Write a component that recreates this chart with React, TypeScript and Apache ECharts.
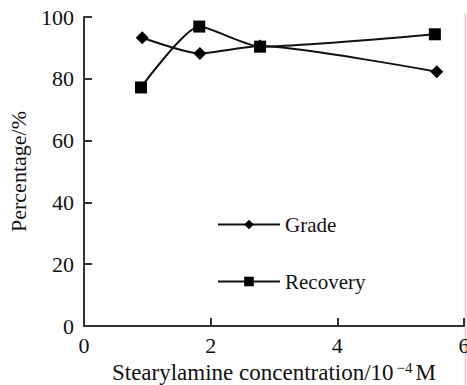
import React, { useEffect, useRef } from "react";
import * as echarts from "echarts";

const xTicks = [0, 2, 4, 6];
const yTicks = [0, 20, 40, 60, 80, 100];
const gradeX = [0.92, 1.83, 2.78, 5.57];
const gradeY = [93.3, 88.2, 90.6, 82.3];
const recoveryX = [0.9, 1.82, 2.78, 5.54];
const recoveryY = [77.2, 96.9, 90.4, 94.4];
const seriesNames = ["Grade", "Recovery"];

const FONT = "Liberation Serif";

export default function App() {
  const ref = useRef<HTMLDivElement>(null);
  useEffect(() => {
    if (!ref.current) return;
    const chart = echarts.init(ref.current, undefined, { renderer: "svg" });
    const axisLine = { lineStyle: { color: "#333", width: 2 } };
    chart.setOption({
      animation: false,
      backgroundColor: "#fff",
      textStyle: { fontFamily: FONT },
      grid: { left: 84, right: 3, top: 17, bottom: 59, containLabel: false, outerBoundsMode: "none" },
      legend: {
        orient: "vertical",
        left: 212,
        top: 209,
        itemWidth: 62,
        itemHeight: 12,
        itemGap: 36,
        data: seriesNames,
        textStyle: { fontFamily: FONT, fontSize: 21, color: "#111" },
      },
      xAxis: {
        type: "value",
        min: xTicks[0],
        max: xTicks[xTicks.length - 1],
        interval: 2,
        name: "{a|Stearylamine concentration/10}{s|−4}{a|M}",
        nameLocation: "middle",
        nameGap: 31,
        nameTextStyle: {
          rich: {
            a: { fontFamily: FONT, fontSize: 23, color: "#111", verticalAlign: "bottom" },
            s: { fontFamily: FONT, fontSize: 15, color: "#111", verticalAlign: "top", padding: [0, 3, 8, 3] },
          },
        },
        axisLine,
        axisTick: { inside: true, length: 8, lineStyle: { color: "#333", width: 2 } },
        axisLabel: { fontFamily: FONT, fontSize: 22, color: "#111", margin: 8 },
        splitLine: { show: false },
      },
      yAxis: {
        type: "value",
        min: yTicks[0],
        max: yTicks[yTicks.length - 1],
        interval: 20,
        name: "Percentage/%",
        nameLocation: "middle",
        nameGap: 55,
        nameTextStyle: { fontFamily: FONT, fontSize: 22, color: "#111" },
        axisLine,
        axisTick: { inside: true, length: 8, lineStyle: { color: "#333", width: 2 } },
        axisLabel: { fontFamily: FONT, fontSize: 22, color: "#111", margin: 10 },
        splitLine: { show: false },
      },
      series: [
        {
          name: seriesNames[0],
          type: "line",
          smooth: 0.2,
          data: gradeX.map((x, i) => [x, gradeY[i]]),
          symbol: "diamond",
          symbolSize: 13,
          itemStyle: { color: "#000" },
          lineStyle: { color: "#111", width: 2 },
        },
        {
          name: seriesNames[1],
          type: "line",
          smooth: 0.2,
          data: recoveryX.map((x, i) => [x, recoveryY[i]]),
          symbol: "rect",
          symbolSize: 12,
          itemStyle: { color: "#000" },
          lineStyle: { color: "#111", width: 2 },
        },
      ],
      graphic: [
        {
          type: "line",
          shape: { x1: 465.5, y1: 13, x2: 465.5, y2: 385 },
          style: { stroke: "#ffbcbc", lineWidth: 1.5 },
        },
      ],
    });
    return () => chart.dispose();
  }, []);
  return <div ref={ref} style={{ width: 467, height: 385, position: "absolute", left: 0, top: 0 }} />;
}
